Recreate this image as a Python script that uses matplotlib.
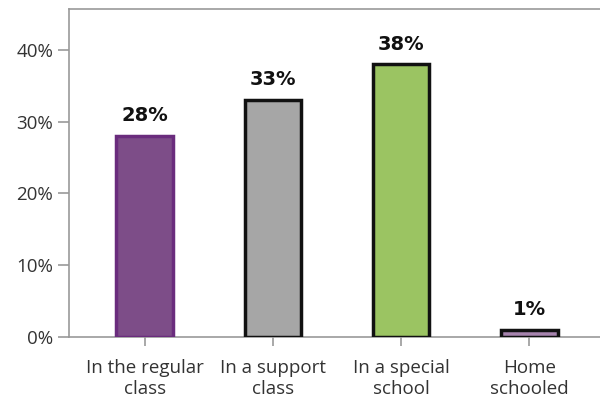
import matplotlib
matplotlib.use("Agg")
import matplotlib.pyplot as plt
from matplotlib.ticker import PercentFormatter

categories = ["In the regular\nclass", "In a support\nclass", "In a special\nschool", "Home\nschooled"]
values = [28, 33, 38, 1]
fill_colors = ["#7d4d88", "#a6a6a6", "#9bc462", "#a784ae"]
edge_colors = ["#6a2c7d", "#111111", "#111111", "#111111"]

plt.rcParams["font.family"] = ["Open Sans", "DejaVu Sans"]

fig = plt.figure(figsize=(6.0, 4.03), dpi=100)
ax = fig.add_axes([0.115, 0.164, 0.885, 0.814])

x = range(len(categories))
ax.bar(x, values, width=0.44, color=fill_colors, edgecolor=edge_colors, linewidth=2.5, zorder=3)

for xi, v in zip(x, values):
    ax.annotate(f"{v}%", (xi, v), xytext=(0, 10.5), textcoords="offset points",
                ha="center", va="baseline", fontsize=14, fontweight="bold",
                color="#111111", family="DejaVu Sans")

ax.set_xlim(-0.59, 3.55)
ax.set_ylim(0, 45.7)
ax.set_yticks([0, 10, 20, 30, 40])
ax.yaxis.set_major_formatter(PercentFormatter(decimals=0))
ax.set_xticks(list(x))
ax.set_xticklabels(categories, fontsize=13.5, color="#333333", linespacing=1.2)
ax.tick_params(axis="y", labelsize=13.5, labelcolor="#333333", color="#999999", length=8, width=1.2, pad=3.5)
ax.tick_params(axis="x", color="#999999", length=6.5, width=1.2, pad=9.5)

for side in ["left", "top", "bottom"]:
    ax.spines[side].set_color("#999999")
    ax.spines[side].set_linewidth(1.2)
ax.spines["right"].set_visible(False)

fig.savefig("out.png", dpi=100)
